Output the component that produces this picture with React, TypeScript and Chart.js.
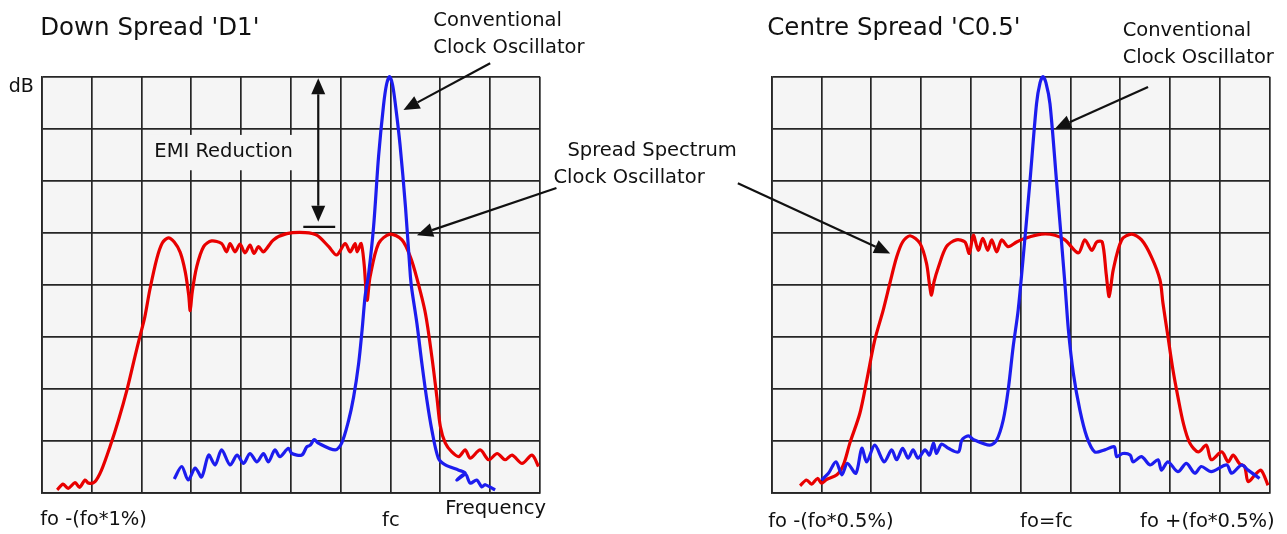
import React, { useEffect, useRef } from 'react';
import { Chart, registerables } from 'chart.js';

Chart.register(...registerables);

const PAGE_W = 1287;
const PAGE_H = 534;
const FONT = '"DejaVu Sans", sans-serif';
const RED = 'rgb(232, 0, 0)';
const BLUE = 'rgb(28, 28, 238)';
const GRID = '#262626';
const BG = '#f5f5f5';
const INK = '#111111';

// grid: 10 divisions across, 8 divisions up
const xDivisions = [0, 10];
const yDivisions = [0, 8];

// ---------- Down Spread 'D1' ----------
const downSpreadX = [0.31, 0.43, 0.53, 0.67, 0.76, 0.87, 0.94, 1.07, 1.2, 1.37, 1.54, 1.71, 1.87, 1.97, 2.07, 2.17, 2.31, 2.42, 2.54, 2.66, 2.78, 2.88, 2.95, 2.98, 3.02, 3.11, 3.25, 3.41, 3.61, 3.71, 3.78, 3.88, 3.98, 4.08, 4.18, 4.26, 4.35, 4.45, 4.65, 4.92, 5.29, 5.52, 5.76, 5.92, 6.09, 6.19, 6.29, 6.33, 6.41, 6.47, 6.53, 6.59, 6.76, 6.99, 7.23, 7.4, 7.53, 7.7, 7.83, 7.93, 8.0, 8.1, 8.23, 8.37, 8.5, 8.6, 8.8, 8.97, 9.14, 9.3, 9.44, 9.64, 9.84, 9.97];
const downSpreadY = [0.05, 0.16, 0.08, 0.19, 0.1, 0.24, 0.18, 0.21, 0.43, 0.88, 1.39, 1.97, 2.61, 3.0, 3.38, 3.9, 4.5, 4.8, 4.9, 4.82, 4.62, 4.25, 3.8, 3.5, 3.85, 4.34, 4.73, 4.84, 4.79, 4.63, 4.79, 4.63, 4.78, 4.61, 4.76, 4.6, 4.73, 4.63, 4.86, 4.98, 5.0, 4.95, 4.73, 4.57, 4.79, 4.63, 4.79, 4.63, 4.79, 4.4, 3.7, 4.15, 4.79, 4.97, 4.86, 4.53, 4.12, 3.45, 2.61, 1.84, 1.27, 0.95, 0.78, 0.69, 0.82, 0.66, 0.82, 0.63, 0.75, 0.63, 0.72, 0.56, 0.72, 0.5];
const downConvX = [2.66, 2.81, 2.94, 3.08, 3.21, 3.35, 3.48, 3.61, 3.78, 3.92, 4.05, 4.18, 4.32, 4.45, 4.55, 4.68, 4.78, 4.95, 5.02, 5.22, 5.32, 5.39, 5.47, 5.55, 5.89, 6.02, 6.16, 6.26, 6.36, 6.43, 6.49, 6.56, 6.66, 6.76, 6.86, 6.92, 6.98, 7.04, 7.1, 7.19, 7.3, 7.4, 7.43, 7.53, 7.63, 7.73, 7.83, 7.96, 8.1, 8.37, 8.5, 8.33, 8.5, 8.6, 8.73, 8.83, 8.9, 9.1];
const downConvY = [0.26, 0.5, 0.24, 0.47, 0.3, 0.72, 0.53, 0.82, 0.53, 0.72, 0.56, 0.75, 0.59, 0.75, 0.59, 0.82, 0.69, 0.85, 0.75, 0.72, 0.88, 0.91, 1.02, 0.95, 0.82, 0.95, 1.39, 1.84, 2.48, 3.13, 3.77, 4.2, 5.11, 6.46, 7.45, 7.85, 8.0, 7.85, 7.45, 6.7, 5.5, 4.15, 3.89, 3.25, 2.48, 1.78, 1.2, 0.66, 0.53, 0.43, 0.37, 0.24, 0.36, 0.18, 0.24, 0.11, 0.15, 0.05];

// ---------- Centre Spread 'C0.5' ----------
const centreSpreadX = [0.57, 0.7, 0.8, 0.92, 1.0, 1.1, 1.31, 1.44, 1.57, 1.77, 1.91, 2.07, 2.24, 2.38, 2.51, 2.63, 2.78, 2.98, 3.11, 3.17, 3.21, 3.26, 3.35, 3.51, 3.71, 3.88, 3.97, 4.05, 4.15, 4.24, 4.34, 4.42, 4.52, 4.62, 4.75, 4.92, 5.09, 5.42, 5.69, 5.89, 6.16, 6.29, 6.43, 6.53, 6.64, 6.72, 6.78, 6.86, 7.03, 7.23, 7.43, 7.63, 7.8, 7.86, 7.96, 8.06, 8.16, 8.27, 8.4, 8.57, 8.73, 8.83, 9.04, 9.17, 9.27, 9.4, 9.5, 9.57, 9.71, 9.83, 9.97];
const centreSpreadY = [0.13, 0.24, 0.16, 0.27, 0.18, 0.25, 0.34, 0.53, 0.95, 1.52, 2.16, 2.93, 3.51, 4.05, 4.53, 4.82, 4.94, 4.79, 4.41, 4.0, 3.8, 4.05, 4.34, 4.73, 4.86, 4.82, 4.6, 4.95, 4.66, 4.89, 4.66, 4.86, 4.63, 4.86, 4.73, 4.82, 4.89, 4.97, 4.95, 4.86, 4.61, 4.86, 4.66, 4.82, 4.82, 4.2, 3.77, 4.28, 4.86, 4.97, 4.86, 4.53, 4.09, 3.64, 3.0, 2.36, 1.84, 1.33, 0.95, 0.78, 0.91, 0.63, 0.78, 0.59, 0.72, 0.55, 0.5, 0.21, 0.34, 0.43, 0.14];
const centreConvX = [1.0, 1.14, 1.29, 1.41, 1.52, 1.69, 1.81, 1.91, 2.07, 2.26, 2.41, 2.51, 2.63, 2.74, 2.84, 2.94, 3.08, 3.17, 3.25, 3.31, 3.41, 3.55, 3.75, 3.82, 3.95, 4.05, 4.38, 4.52, 4.65, 4.75, 4.85, 4.95, 5.05, 5.19, 5.32, 5.39, 5.45, 5.51, 5.59, 5.72, 5.89, 5.96, 6.06, 6.19, 6.33, 6.49, 6.69, 6.88, 6.93, 7.05, 7.2, 7.26, 7.43, 7.6, 7.76, 7.83, 7.96, 8.16, 8.33, 8.5, 8.63, 8.83, 9.14, 9.24, 9.44, 9.57, 9.8];
const centreConvY = [0.24, 0.37, 0.59, 0.34, 0.56, 0.37, 0.85, 0.59, 0.91, 0.59, 0.82, 0.63, 0.85, 0.66, 0.82, 0.66, 0.82, 0.72, 0.95, 0.75, 0.93, 0.85, 0.78, 1.01, 1.09, 1.02, 0.91, 1.01, 1.39, 1.97, 2.8, 3.5, 4.5, 6.01, 7.48, 7.88, 8.0, 7.88, 7.48, 6.01, 4.02, 3.13, 2.29, 1.59, 1.07, 0.78, 0.82, 0.88, 0.69, 0.75, 0.72, 0.59, 0.69, 0.53, 0.63, 0.43, 0.59, 0.4, 0.56, 0.37, 0.5, 0.4, 0.53, 0.37, 0.53, 0.43, 0.27];

// ---------- Text ----------
const downTitle = "Down Spread 'D1'";
const centreTitle = "Centre Spread 'C0.5'";
const convLabel = ['Conventional', 'Clock Oscillator'];
const spreadLabel = ['Spread Spectrum', 'Clock Oscillator'];
const downAxisLabels = ['fo -(fo*1%)', 'fc', 'Frequency'];
const centreAxisLabels = ['fo -(fo*0.5%)', 'fo=fc', 'fo +(fo*0.5%)'];
const yAxisLabel = 'dB';
const emiLabel = 'EMI Reduction';

type TextItem = { text: string; x: number; y: number; size: number };
type ArrowItem = { from: [number, number]; to: [number, number]; both?: boolean };
type Annot = {
  texts: TextItem[];
  arrows: ArrowItem[];
  bars?: { x1: number; x2: number; y: number }[];
  boxes?: { x1: number; x2: number; y1: number; y2: number }[];
};

const downAnnot: Annot = {
  texts: [
    { text: downTitle, x: -0.03, y: 8.93, size: 24.5 },
    { text: convLabel[0], x: 7.86, y: 9.08, size: 19.5 },
    { text: convLabel[1], x: 7.86, y: 8.56, size: 19.5 },
    { text: yAxisLabel, x: -0.66, y: 7.8, size: 19 },
    { text: emiLabel, x: 2.26, y: 6.55, size: 19.5 },
    { text: spreadLabel[0], x: 10.55, y: 6.58, size: 19.5 },
    { text: spreadLabel[1], x: 10.27, y: 6.06, size: 19.5 },
    { text: downAxisLabels[0], x: -0.03, y: -0.53, size: 19.5 },
    { text: downAxisLabels[1], x: 6.83, y: -0.55, size: 19.5 },
    { text: downAxisLabels[2], x: 8.1, y: -0.32, size: 19.5 },
  ],
  arrows: [
    { from: [9.0, 8.26], to: [7.26, 7.36] },
    { from: [10.33, 5.86], to: [7.53, 4.95] },
    { from: [5.55, 7.97], to: [5.55, 5.21], both: true },
  ],
  bars: [{ x1: 5.25, x2: 5.89, y: 5.11 }],
  boxes: [{ x1: 2.14, x2: 5.15, y1: 6.2, y2: 6.88 }],
};

const centreAnnot: Annot = {
  texts: [
    { text: centreTitle, x: -0.09, y: 8.93, size: 24.5 },
    { text: convLabel[0], x: 7.05, y: 8.88, size: 19.5 },
    { text: convLabel[1], x: 7.05, y: 8.37, size: 19.5 },
    { text: centreAxisLabels[0], x: -0.07, y: -0.57, size: 19.5 },
    { text: centreAxisLabels[1], x: 4.99, y: -0.57, size: 19.5 },
    { text: centreAxisLabels[2], x: 7.4, y: -0.57, size: 19.5 },
  ],
  arrows: [
    { from: [7.56, 7.8], to: [5.69, 7.0] },
    { from: [-0.68, 5.95], to: [2.38, 4.6] },
  ],
};

function pts(xs: number[], ys: number[]) {
  return xs.map((x, i) => ({ x, y: ys[i] }));
}

function drawArrow(ctx: CanvasRenderingContext2D, x1: number, y1: number, x2: number, y2: number, both = false) {
  const head = 16;
  const hw = 7;
  const a = Math.atan2(y2 - y1, x2 - x1);
  const c = Math.cos(a), s = Math.sin(a);
  const sx = both ? x1 + head * c : x1;
  const sy = both ? y1 + head * s : y1;
  const ex = x2 - head * c, ey = y2 - head * s;
  ctx.beginPath();
  ctx.moveTo(sx, sy);
  ctx.lineTo(ex, ey);
  ctx.stroke();
  const tri = (tx: number, ty: number, dc: number, ds: number) => {
    const bx = tx - head * dc, by = ty - head * ds;
    ctx.beginPath();
    ctx.moveTo(tx, ty);
    ctx.lineTo(bx + hw * ds, by - hw * dc);
    ctx.lineTo(bx - hw * ds, by + hw * dc);
    ctx.closePath();
    ctx.fill();
  };
  tri(x2, y2, c, s);
  if (both) tri(x1, y1, -c, -s);
}

function makeAnnotPlugin(annot: Annot) {
  return {
    id: 'annot',
    beforeDraw(chart: any) {
      const { ctx, chartArea } = chart;
      ctx.save();
      ctx.fillStyle = BG;
      ctx.fillRect(chartArea.left, chartArea.top, chartArea.right - chartArea.left, chartArea.bottom - chartArea.top);
      ctx.restore();
    },
    beforeDatasetsDraw(chart: any) {
      const { ctx } = chart;
      const sx = chart.scales.x, sy = chart.scales.y;
      ctx.save();
      ctx.fillStyle = BG;
      (annot.boxes || []).forEach((b) => {
        const x1 = sx.getPixelForValue(b.x1), x2 = sx.getPixelForValue(b.x2);
        const y1 = sy.getPixelForValue(b.y2), y2 = sy.getPixelForValue(b.y1);
        ctx.fillRect(x1, y1, x2 - x1, y2 - y1);
      });
      ctx.restore();
    },
    afterDraw(chart: any) {
      const { ctx } = chart;
      const sx = chart.scales.x, sy = chart.scales.y;
      const px = (v: number) => sx.getPixelForValue(v);
      const py = (v: number) => sy.getPixelForValue(v);
      ctx.save();
      ctx.fillStyle = INK;
      ctx.strokeStyle = INK;
      ctx.lineWidth = 2.2;
      ctx.textBaseline = 'middle';
      ctx.textAlign = 'left';
      annot.texts.forEach((t) => {
        ctx.font = `${t.size}px ${FONT}`;
        ctx.fillText(t.text, px(t.x), py(t.y));
      });
      annot.arrows.forEach((a) => {
        drawArrow(ctx, px(a.from[0]), py(a.from[1]), px(a.to[0]), py(a.to[1]), a.both);
      });
      (annot.bars || []).forEach((b) => {
        ctx.beginPath();
        ctx.moveTo(px(b.x1), py(b.y));
        ctx.lineTo(px(b.x2), py(b.y));
        ctx.stroke();
      });
      ctx.restore();
    },
  };
}

function buildChart(canvas: HTMLCanvasElement, spread: { x: number; y: number }[], conv: { x: number; y: number }[], annot: Annot, padLeft: number, padRight: number) {
  return new Chart(canvas, {
    type: 'line',
    data: {
      datasets: [
        { data: conv, borderColor: BLUE, borderWidth: 3.2, tension: 0.3, pointRadius: 0, clip: false, order: 1 } as any,
        { data: spread, borderColor: RED, borderWidth: 3.2, tension: 0.3, pointRadius: 0, clip: false, order: 2 } as any,
      ],
    },
    options: {
      responsive: false,
      animation: false,
      events: [],
      layout: { padding: { left: padLeft, right: padRight, top: 76.7, bottom: 41.5 } },
      plugins: { legend: { display: false }, tooltip: { enabled: false }, title: { display: false } },
      scales: {
        x: {
          type: 'linear',
          min: xDivisions[0],
          max: xDivisions[1],
          ticks: { display: false, stepSize: 1 },
          grid: { color: GRID, lineWidth: 1.7, drawTicks: false },
          border: { display: true, color: GRID, width: 1.7 },
        },
        y: {
          type: 'linear',
          min: yDivisions[0],
          max: yDivisions[1],
          ticks: { display: false, stepSize: 1 },
          grid: { color: GRID, lineWidth: 1.7, drawTicks: false },
          border: { display: true, color: GRID, width: 1.7 },
        },
      },
    } as any,
    plugins: [makeAnnotPlugin(annot)],
  });
}

export default function App() {
  const leftRef = useRef<HTMLCanvasElement>(null);
  const rightRef = useRef<HTMLCanvasElement>(null);

  useEffect(() => {
    const c1 = buildChart(leftRef.current!, pts(downSpreadX, downSpreadY), pts(downConvX, downConvY), downAnnot, 41.7, PAGE_W - 540);
    const c2 = buildChart(rightRef.current!, pts(centreSpreadX, centreSpreadY), pts(centreConvX, centreConvY), centreAnnot, 771.7, PAGE_W - 1269.5);
    return () => {
      c1.destroy();
      c2.destroy();
    };
  }, []);

  const style: React.CSSProperties = { position: 'absolute', left: 0, top: 0, width: PAGE_W, height: PAGE_H };
  return (
    <div style={{ position: 'absolute', left: 0, top: 0, width: PAGE_W, height: PAGE_H, background: '#fff' }}>
      <canvas ref={leftRef} width={PAGE_W} height={PAGE_H} style={style} />
      <canvas ref={rightRef} width={PAGE_W} height={PAGE_H} style={style} />
    </div>
  );
}
